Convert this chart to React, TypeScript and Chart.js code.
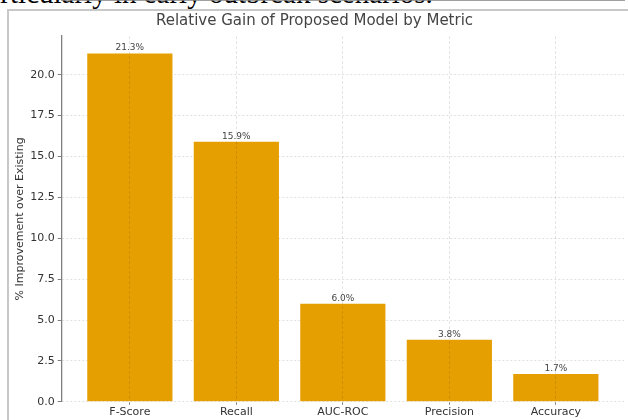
import React, { useEffect, useRef } from 'react';
import { Chart, registerables } from 'chart.js';

Chart.register(...registerables);

const categories = ['F-Score', 'Recall', 'AUC-ROC', 'Precision', 'Accuracy'];
const gains = [21.3, 15.9, 6.0, 3.8, 1.7];
const valueLabels = ['21.3%', '15.9%', '6.0%', '3.8%', '1.7%'];
const yTicks = [0, 2.5, 5, 7.5, 10, 12.5, 15, 17.5, 20];
const titleText = 'Relative Gain of Proposed Model by Metric';
const yTitle = '% Improvement over Existing';
const captionText = 'particularly in early outbreak scenarios.';

const FONT = '"DejaVu Sans", sans-serif';
const BAR = '#e69f00';

const valueLabelPlugin = {
  id: 'valueLabels',
  afterDatasetsDraw(chart: any) {
    const ctx = chart.ctx;
    const meta = chart.getDatasetMeta(0);
    ctx.save();
    ctx.font = '9px ' + FONT;
    ctx.fillStyle = '#444444';
    ctx.textAlign = 'center';
    ctx.textBaseline = 'alphabetic';
    meta.data.forEach((el: any, i: number) => {
      ctx.fillText(valueLabels[i], el.x, el.y - 3);
    });
    ctx.restore();
  },
};

export default function App() {
  const ref = useRef<HTMLCanvasElement>(null);

  useEffect(() => {
    if (!ref.current) return;
    const chart = new Chart(ref.current, {
      type: 'bar',
      data: {
        datasets: [
          {
            data: gains.map((v, i) => ({ x: i, y: v })),
            backgroundColor: BAR,
            borderWidth: 0,
            categoryPercentage: 0.8,
            barPercentage: 1,
          },
        ],
      },
      options: {
        animation: false,
        responsive: false,
        maintainAspectRatio: false,
        layout: { padding: { left: 5, right: 4, top: 0, bottom: 0 } },
        plugins: {
          legend: { display: false },
          tooltip: { enabled: false },
          title: {
            display: true,
            text: titleText,
            color: '#444444',
            font: { family: FONT, size: 15, weight: 'normal' },
            padding: { top: 12, bottom: 6 },
          },
        },
        scales: {
          x: {
            type: 'linear',
            offset: false,
            min: -0.64,
            max: 4.64,
            afterBuildTicks: (scale: any) => {
              scale.ticks = categories.map((_, i) => ({ value: i }));
            },
            ticks: {
              autoSkip: false,
              maxRotation: 0,
              padding: 1,
              color: '#333333',
              font: { family: FONT, size: 11 },
              callback: (v: any) => categories[Math.round(Number(v))] ?? '',
            },
            grid: {
              offset: false,
              z: 1,
              color: 'rgba(0,0,0,0.1)',
              lineWidth: 1,
              tickLength: 3,
              tickColor: '#808080',
              tickBorderDash: [],
            },
            border: { display: true, color: '#808080', width: 1.3, dash: [3, 2] },
          },
          y: {
            type: 'linear',
            min: 0,
            max: 22.37,
            afterBuildTicks: (scale: any) => {
              scale.ticks = yTicks.map((v) => ({ value: v }));
            },
            ticks: {
              padding: 3,
              color: '#333333',
              font: { family: FONT, size: 11 },
              callback: (v: any) => Number(v).toFixed(1),
            },
            grid: {
              offset: false,
              color: 'rgba(0,0,0,0.12)',
              lineWidth: 1,
              tickLength: 4,
              tickColor: '#808080',
              tickBorderDash: [],
            },
            border: { display: true, color: '#808080', width: 1.3, dash: [2, 2] },
            title: {
              display: true,
              text: yTitle,
              color: '#333333',
              font: { family: FONT, size: 11 },
              padding: { top: 9, bottom: 0 },
            },
          },
        },
      },
      plugins: [valueLabelPlugin],
    } as any);
    return () => chart.destroy();
  }, []);

  return (
    <div
      style={{
        position: 'absolute',
        left: 0,
        top: 0,
        width: 628,
        height: 420,
        overflow: 'hidden',
        background: '#ffffff',
      }}
    >
      <div
        style={{
          position: 'absolute',
          left: -27,
          top: -21,
          fontFamily: '"Liberation Serif", serif',
          fontSize: 29,
          lineHeight: '29px',
          whiteSpace: 'nowrap',
          color: '#000',
        }}
      >
        {captionText}
      </div>
      <div
        style={{
          position: 'absolute',
          left: 7,
          top: 9,
          width: 660,
          height: 460,
          border: '2px solid #c8c8c8',
          boxSizing: 'border-box',
        }}
      />
      <canvas
        ref={ref}
        width={628}
        height={420}
        style={{ position: 'absolute', left: 0, top: 0, width: 628, height: 420 }}
      />
    </div>
  );
}
